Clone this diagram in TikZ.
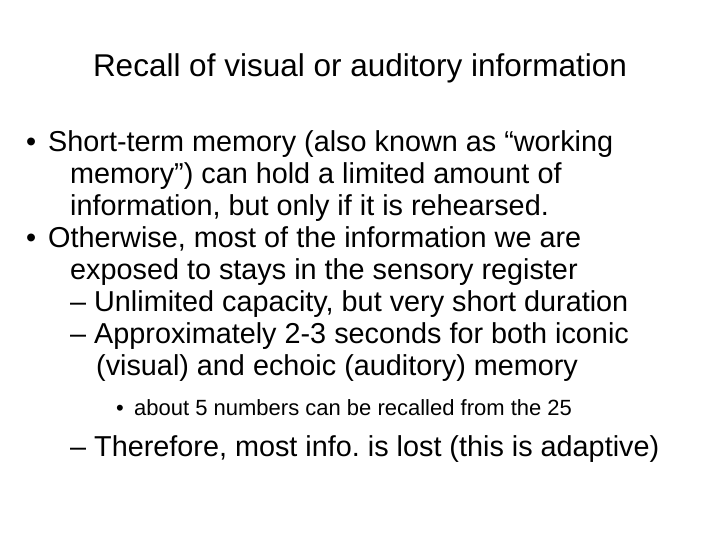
\documentclass[tikz,border=0pt]{standalone}
\usepackage{fontspec}
\setmainfont{Liberation Sans}
\begin{document}
\begin{tikzpicture}[x=1pt,y=-1pt,
  tx/.style={anchor=mid west,inner sep=0pt,font=\fontsize{28.8}{32}\selectfont},
  sm/.style={anchor=mid west,inner sep=0pt,font=\fontsize{22}{26}\selectfont}]
\useasboundingbox (0,0) rectangle (720,540);
\node[anchor=mid,inner sep=0pt,font=\fontsize{31.5}{36}\selectfont] (t) at (360,74) {Recall of visual or auditory information};
\node[tx] (b1) at (26,149) {•};
\node[tx] (l1) at (48,149) {Short-term memory (also known as “working};
\node[tx] (l2) at (70,181) {memory”) can hold a limited amount of};
\node[tx] (l3) at (70,213) {information, but only if it is rehearsed.};
\node[tx] (b2) at (26,245) {•};
\node[tx] (l4) at (48,245) {Otherwise, most of the information we are};
\node[tx] (l5) at (70,277) {exposed to stays in the sensory register};
\node[tx] (l6) at (70,309) {– Unlimited capacity, but very short duration};
\node[tx] (l7) at (70,341) {– Approximately 2-3 seconds for both iconic};
\node[tx] (l8) at (96,373) {(visual) and echoic (auditory) memory};
\node[sm] (b3) at (116,413) {•};
\node[sm] (l9) at (134,413) {about 5 numbers can be recalled from the 25};
\node[tx] (l10) at (70,454) {– Therefore, most info.\ is lost (this is adaptive)};
\end{tikzpicture}
\end{document}
